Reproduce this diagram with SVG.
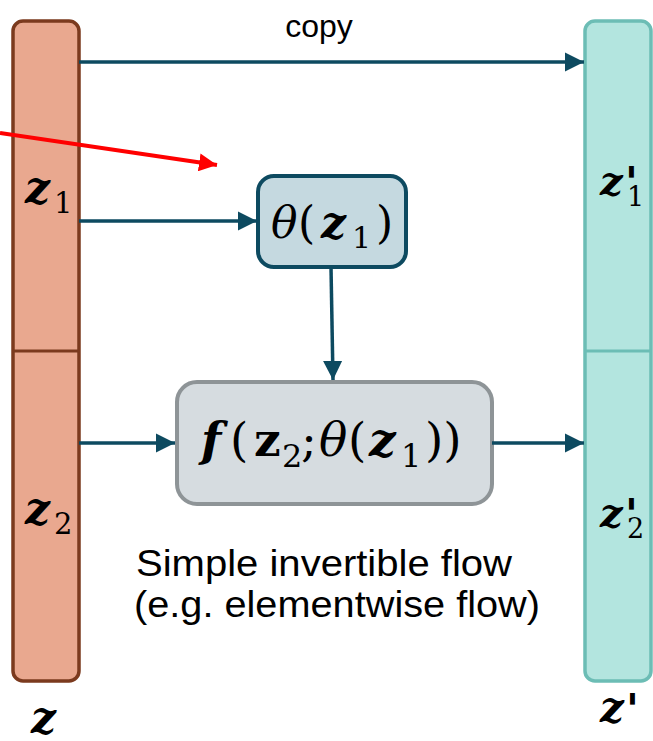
<svg xmlns="http://www.w3.org/2000/svg" width="653" height="741" viewBox="0 0 653 741">
  <defs>
    <marker id="ah" viewBox="0 0 10 10" refX="10" refY="5" markerWidth="5.5" markerHeight="5.5" orient="auto" markerUnits="strokeWidth">
      <path d="M0,0 L10,5 L0,10 Z" fill="#0D4A60"/>
    </marker>
    <marker id="ahr" viewBox="0 0 10 10" refX="10" refY="5" markerWidth="4.5" markerHeight="4.5" orient="auto" markerUnits="strokeWidth">
      <path d="M0,0 L10,5 L0,10 Z" fill="#FF0000"/>
    </marker>
  </defs>
  <style>
    .edge { stroke: #0D4A60; stroke-width: 3.5; fill: none; marker-end: url(#ah); }
    .math { font-family: "DejaVu Serif", "Liberation Serif", serif; fill: #000; }
    .bz { font-weight: bold; font-style: italic; }
    .bu { font-weight: bold; }
    .it { font-style: italic; }
    .prime { font-family: "DejaVu Sans", "Liberation Sans", sans-serif; font-weight: bold; font-style: italic; fill: #000; }
    .sans { font-family: "Liberation Sans", "Open Sans", sans-serif; fill: #000; }
  </style>
  <rect width="653" height="741" fill="#fff"/>

  <g id="z-input">
    <rect x="13" y="21" width="66" height="660" rx="10" fill="#E9A88F" stroke="#7B3A1E" stroke-width="3.5"/>
    <line x1="13" y1="351" x2="79" y2="351" stroke="#7B3A1E" stroke-width="3"/>
    <text class="math bz" x="25" y="203" font-size="44">z</text>
    <text class="math" x="54" y="213" font-size="29">1</text>
    <text class="math bz" x="25" y="524" font-size="44">z</text>
    <text class="math" x="54" y="534" font-size="29">2</text>
    <text class="math bz" x="31" y="733" font-size="44">z</text>
  </g>

  <g id="z-output">
    <rect x="585" y="21" width="66" height="660" rx="10" fill="#B3E5DF" stroke="#6CBDB5" stroke-width="3.5"/>
    <line x1="585" y1="351" x2="651" y2="351" stroke="#6CBDB5" stroke-width="3"/>
    <text class="math bz" x="600" y="195" font-size="40">z</text>
    <text class="prime" x="625" y="197" font-size="42">'</text>
    <text class="math" x="627" y="206" font-size="27">1</text>
    <text class="math bz" x="600" y="527" font-size="40">z</text>
    <text class="prime" x="625" y="529" font-size="42">'</text>
    <text class="math" x="627" y="538" font-size="27">2</text>
    <text class="math bz" x="600" y="722" font-size="42">z</text>
    <text class="prime" x="626" y="724" font-size="42">'</text>
  </g>

  <g id="theta">
    <rect x="258" y="176" width="148" height="91" rx="16" fill="#C5D9E0" stroke="#0D4A60" stroke-width="4"/>
    <text class="math" y="238" font-size="44"><tspan class="it" x="271">θ</tspan><tspan x="298">(</tspan><tspan class="bz" x="321">z</tspan><tspan font-size="30" x="352" y="248">1</tspan><tspan x="376" y="238">)</tspan></text>
  </g>

  <g id="f">
    <rect x="177" y="382" width="315" height="122" rx="20" fill="#D6DCE0" stroke="#8E9497" stroke-width="4"/>
    <text class="math" y="456" font-size="47"><tspan class="bz" x="201">f</tspan><tspan x="230">(</tspan><tspan class="bu" x="254">z</tspan><tspan font-size="32" x="282" y="467">2</tspan><tspan x="301" y="456">;</tspan><tspan class="it" x="319">θ</tspan><tspan x="348">(</tspan><tspan class="bz" x="369">z</tspan><tspan font-size="32" x="401" y="467">1</tspan><tspan x="425" y="456">))</tspan></text>
  </g>

  <g id="caption">
    <text class="sans" x="136" y="576" font-size="36" textLength="376" lengthAdjust="spacingAndGlyphs">Simple invertible flow</text>
    <text class="sans" x="134" y="617" font-size="36" textLength="406" lengthAdjust="spacingAndGlyphs">(e.g. elementwise flow)</text>
  </g>

  <g id="connectors">
    <line class="edge" x1="79" y1="62" x2="584" y2="62"/>
    <text class="sans" x="319" y="37" font-size="32" text-anchor="middle">copy</text>
    <line class="edge" x1="79" y1="221" x2="257" y2="221"/>
    <line class="edge" x1="331" y1="267" x2="333" y2="380"/>
    <line class="edge" x1="79" y1="443" x2="175" y2="443"/>
    <line class="edge" x1="492" y1="443" x2="584" y2="443"/>
    <line x1="0" y1="133" x2="217" y2="165" stroke="#FF0000" stroke-width="4" marker-end="url(#ahr)"/>
  </g>
</svg>
